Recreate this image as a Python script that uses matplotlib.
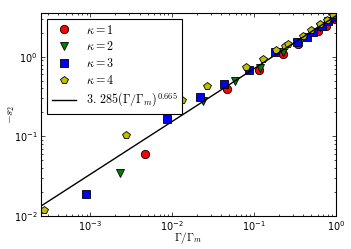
import numpy as np
import matplotlib
matplotlib.use('Agg')
import matplotlib.pyplot as plt

plt.rcParams['mathtext.fontset'] = 'cm'
plt.rcParams['xtick.direction'] = 'in'
plt.rcParams['ytick.direction'] = 'in'
plt.rcParams['xtick.top'] = True
plt.rcParams['ytick.right'] = True

# data (Gamma/Gamma_m, -s2)
x_k1 = [4.7e-3, 0.047, 0.115, 0.226, 0.346, 0.607, 0.76, 0.97]
y_k1 = [0.0605, 0.395, 0.69, 1.09, 1.46, 2.10, 2.48, 3.0]

x_k2 = [2.3e-3, 0.0238, 0.058, 0.117, 0.226, 0.363, 0.64, 0.92]
y_k2 = [0.034, 0.279, 0.499, 0.73, 1.14, 1.55, 2.35, 3.1]

x_k3 = [8.9e-4, 8.6e-3, 0.0216, 0.043, 0.087, 0.179, 0.336, 0.438, 0.527, 0.668, 0.805, 0.97]
y_k3 = [0.0186, 0.166, 0.31, 0.461, 0.69, 1.14, 1.56, 1.77, 2.08, 2.48, 2.81, 3.22]

x_k4 = [2.7e-4, 2.7e-3, 0.0133, 0.0266, 0.079, 0.129, 0.184, 0.238, 0.261, 0.398,
        0.49, 0.637, 0.783, 0.927]
y_k4 = [0.0117, 0.105, 0.29, 0.427, 0.748, 0.944, 1.21, 1.36, 1.46, 1.85,
        2.16, 2.60, 2.95, 3.38]

fit_a = 3.285
fit_b = 0.665

fig = plt.figure(figsize=(3.51, 2.49), dpi=100)
ax = fig.add_axes([0.117, 0.134, 0.84, 0.815])

ms = 6
ax.loglog(x_k1, y_k1, 'o', color='r', mec='k', ms=ms, mew=0.6, label=r'$\kappa=1$')
ax.loglog(x_k2, y_k2, 'v', color='g', mec='k', ms=ms, mew=0.6, label=r'$\kappa=2$')
ax.loglog(x_k3, y_k3, 's', color='b', mec='k', ms=ms, mew=0.6, label=r'$\kappa=3$')
ax.loglog(x_k4, y_k4, 'p', color='y', mec='k', ms=ms, mew=0.6, label=r'$\kappa=4$')

xf = np.logspace(np.log10(2.5e-4), 0, 100)
ax.loglog(xf, fit_a * xf**fit_b, 'k-', lw=1,
          label=r'$3.\,285(\Gamma/\Gamma_m)^{0.665}$')

ax.set_xlim(2.5e-4, 1)
ax.set_ylim(0.01, 3.6)
ax.tick_params(labelsize=7, length=3, width=0.5, pad=2.5)
ax.tick_params(which='minor', length=1.5, width=0.5)
for s in ax.spines.values():
    s.set_linewidth(0.8)

ax.set_xlabel(r'$\Gamma/\Gamma_m$', fontsize=8)
ax.set_ylabel(r'$-s_2$', fontsize=8)
ax.xaxis.set_label_coords(0.5, -0.072)
ax.yaxis.set_label_coords(-0.08, 0.5)

leg = ax.legend(loc='upper left', numpoints=1, fontsize=8.7, fancybox=False,
                edgecolor='k', framealpha=1, borderaxespad=0.5,
                handlelength=2.0, labelspacing=0.32)
leg.get_frame().set_linewidth(0.8)

fig.savefig('out.png', dpi=100)
